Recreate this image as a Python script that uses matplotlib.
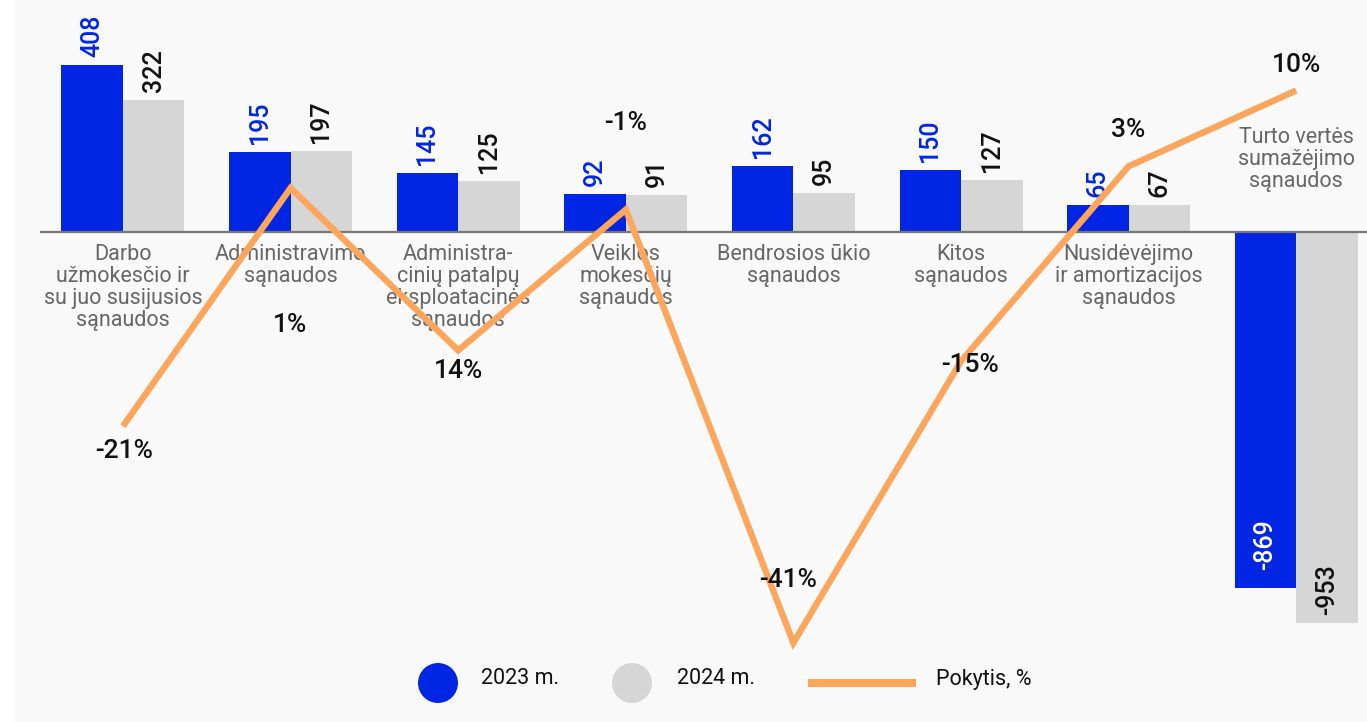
import matplotlib
matplotlib.use("Agg")
import matplotlib.pyplot as plt
from matplotlib.patches import Rectangle, Ellipse
from matplotlib.lines import Line2D
import numpy as np

plt.rcParams['font.family'] = ['Roboto', 'DejaVu Sans']

categories = [
    "Darbo\nužmokesčio ir\nsu juo susijusios\nsąnaudos",
    "Administravimo\nsąnaudos",
    "Administra-\ncinių patalpų\neksploatacinės\nsąnaudos",
    "Veiklos\nmokesčių\nsąnaudos",
    "Bendrosios ūkio\nsąnaudos",
    "Kitos\nsąnaudos",
    "Nusidėvėjimo\nir amortizacijos\nsąnaudos",
    "Turto vertės\nsumažėjimo\nsąnaudos",
]
values_2023 = [408, 195, 145, 92, 162, 150, 65, -869]
values_2024 = [322, 197, 125, 91, 95, 127, 67, -953]
change_pct = [-21, 1, -14, -1, -41, -15, 3, 10]
change_labels = ["-21%", "1%", "14%", "-1%", "-41%", "-15%", "3%", "10%"]
series_names = ["2023 m.", "2024 m.", "Pokytis, %"]

BLUE = "#0026E4"
GRAY = "#D6D6D6"
ORANGE = "#FFA65C"
BG = "#F9F9F9"
TXT = "#666666"

W, H = 1367, 722
fig = plt.figure(figsize=(W / 100, H / 100), dpi=100)
fig.patch.set_facecolor("white")
fig.add_artist(Rectangle((15 / W, 0), 1 - 15 / W, 1, transform=fig.transFigure,
                         facecolor=BG, edgecolor="none", zorder=-10))

ax_left = 40 / W
ax = fig.add_axes([ax_left, 0, 1 - ax_left, 1])
ax.patch.set_visible(False)
spacing = 167.6
x0 = (40 - 123) / spacing
x1 = (W - 123) / spacing
ax.set_xlim(x0, x1)
k = 0.41
zero_px = 232
ax.set_ylim(-(H - zero_px) / k, zero_px / k)
for s in ax.spines.values():
    s.set_visible(False)
ax.set_xticks([])
ax.set_yticks([])

x = np.arange(len(categories))
bw = 61.5 / spacing
b1 = ax.bar(x - bw / 2, values_2023, width=bw, color=BLUE, zorder=2)
b2 = ax.bar(x + bw / 2, values_2024, width=bw, color=GRAY, zorder=2)
ax.axhline(0, color="#777777", lw=1.6, zorder=3)

PT = 0.72  # points per pixel

def bar_labels(xs, vals, color, neg_color, neg_off):
    for xi, v in zip(xs, vals):
        if v >= 0:
            ax.annotate(f"{v}", (xi, v), xytext=(0, 8 * PT), textcoords="offset points",
                        rotation=90, ha="center", va="bottom", fontsize=18,
                        fontweight="medium", color=color, zorder=4)
        else:
            ax.annotate(f"{v}", (xi, v), xytext=(0, neg_off * PT), textcoords="offset points",
                        rotation=90, ha="center", va="bottom", fontsize=18,
                        fontweight="medium", color=neg_color, zorder=4)

bar_labels(x - bw / 2, values_2023, BLUE, "white", 18)
bar_labels(x + bw / 2, values_2024, "#111111", "#111111", 8)

for i, c in enumerate(categories):
    if values_2023[i] >= 0:
        ax.annotate(c, (i, 0), xytext=(0, -12 * PT), textcoords="offset points",
                    ha="center", va="top", fontsize=15.5, color=TXT,
                    linespacing=1.06, zorder=3)
    else:
        ax.annotate(c, (i, 0), xytext=(0, 40 * PT), textcoords="offset points",
                    ha="center", va="bottom", fontsize=15.5, color=TXT,
                    linespacing=1.06, zorder=3)

ax2 = ax.twinx()
ax2.set_position(ax.get_position())
ax2.patch.set_visible(False)
s1 = 10.83
z1 = 198.8
ax2.set_ylim(-(H - z1) / s1, z1 / s1)
for s in ax2.spines.values():
    s.set_visible(False)
ax2.set_yticks([])
ax2.plot(x, change_pct, color=ORANGE, lw=4.6, solid_joinstyle="miter",
         solid_capstyle="butt", zorder=5)

offsets_px = [(1, -25), (-1, -137), (0, -21), (0, 87), (-5, 63), (9, -4), (0, 36), (0, 26)]
for xi, v, lab, (dx, dy) in zip(x, change_pct, change_labels, offsets_px):
    ax2.annotate(lab, (xi, v), xytext=(dx * PT, dy * PT), textcoords="offset points",
                 ha="center", va="center", fontsize=19, fontweight="medium",
                 color="#111111", zorder=6)

# legend
def fx(px):
    return px / W

def fy(py):
    return 1 - py / H

fig.add_artist(Ellipse((fx(438), fy(683)), 40 / W, 40 / H, transform=fig.transFigure,
                       facecolor=BLUE, edgecolor="none"))
fig.add_artist(Ellipse((fx(632), fy(683)), 40 / W, 40 / H, transform=fig.transFigure,
                       facecolor=GRAY, edgecolor="none"))
fig.add_artist(Line2D([fx(808), fx(916)], [fy(683), fy(683)], transform=fig.transFigure,
                      color=ORANGE, lw=5.8, solid_capstyle="butt"))
for px, name in zip([481, 677, 936], series_names):
    fig.text(fx(px), fy(679), name, ha="left", va="center", fontsize=15.5, color="#111111")

fig.savefig("out.png", dpi=100, facecolor=fig.get_facecolor())
